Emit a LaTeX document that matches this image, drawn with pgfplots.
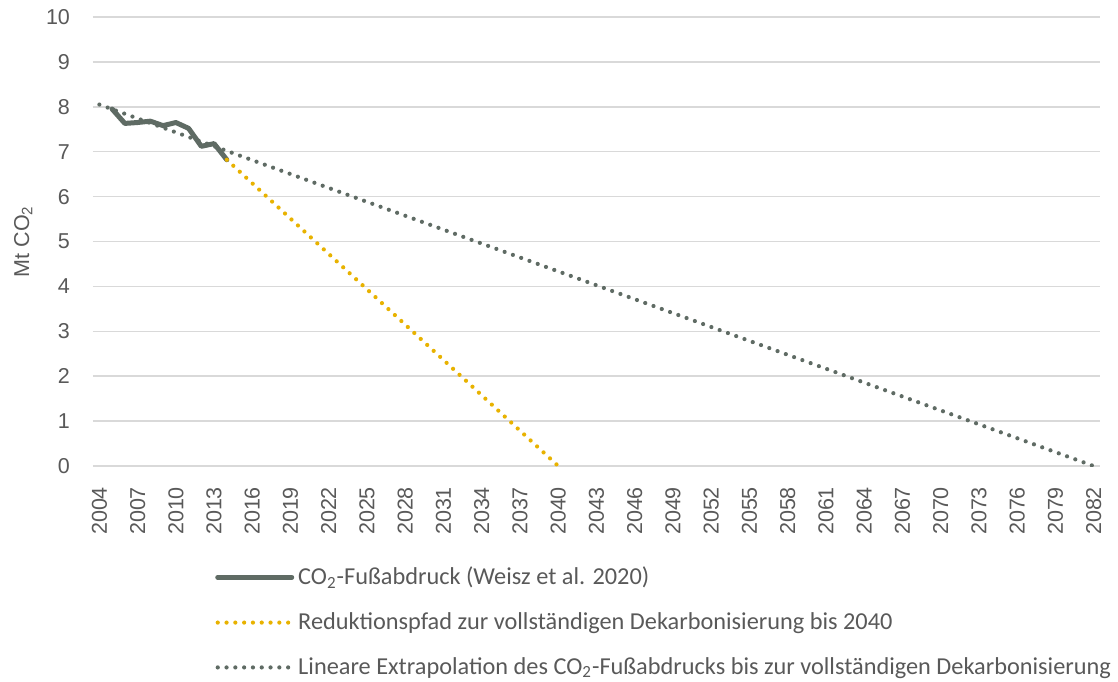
\documentclass[border=0pt]{standalone}
\usepackage{fontspec}
\setmainfont{Liberation Sans}
\newfontfamily\legfont{Carlito}
\usepackage{pgfplots}
\pgfplotsset{compat=1.18}

\definecolor{fussgrau}{RGB}{95,107,100}
\definecolor{pfadgelb}{RGB}{232,178,0}
\definecolor{gitter}{RGB}{217,217,217}
\definecolor{schrift}{RGB}{89,89,89}

\begin{document}
\begin{tikzpicture}
\begin{axis}[
  scale only axis, width=503.5bp, height=224.5bp,
  xmin=2003.5, xmax=2082.5, ymin=0, ymax=10,
  xtick={2004,2007,...,2082}, ytick={0,1,...,10},
  /pgf/number format/1000 sep={},
  /pgf/number format/assume math mode=true,
  axis line style={draw=none}, major tick length=0pt,
  ymajorgrids, grid style={gitter, line width=0.8bp},
  tick label style={font=\fontsize{10.8}{13}\selectfont, text=schrift},
  x tick label style={rotate=90, anchor=east},
  xticklabel shift=7bp, yticklabel shift=8bp,
  ylabel={Mt CO\textsubscript{2}},
  ylabel style={font=\fontsize{10.8}{13}\selectfont, text=schrift},
  legend cell align=left,
  legend image code/.code={\draw[#1] (0bp,0bp) -- (37bp,0bp);},
  legend style={draw=none, fill=none, at={(0.121,-0.215)}, anchor=north west,
    font=\legfont\fontsize{12.2}{14}\selectfont, text=schrift,
    row sep=8.5bp, inner sep=0pt},
]
\addplot[fussgrau, line width=2.5bp, line join=round, line cap=round] coordinates {
  (2005,7.95) (2006,7.63) (2007,7.65) (2008,7.68) (2009,7.58)
  (2010,7.65) (2011,7.52) (2012,7.12) (2013,7.18) (2014,6.82)
};
\addlegendentry{CO\textsubscript{2}-Fußabdruck (Weisz et al. 2020)}
\addplot[pfadgelb, line width=2.1bp, line cap=round, dash pattern=on 0bp off 4.4bp] coordinates {
  (2014,6.82) (2040,0)
};
\addlegendentry{Reduktionspfad zur vollständigen Dekarbonisierung bis 2040}
\addplot[fussgrau, line width=2.1bp, line cap=round, dash pattern=on 0bp off 4.4bp] coordinates {
  (2004,8.05) (2082,0)
};
\addlegendentry{Lineare Extrapolation des CO\textsubscript{2}-Fußabdrucks bis zur vollständigen Dekarbonisierung}
\end{axis}
\pgfresetboundingbox
\useasboundingbox (-46.5bp,-108bp) rectangle (512.5bp,233bp);
\end{tikzpicture}
\end{document}
